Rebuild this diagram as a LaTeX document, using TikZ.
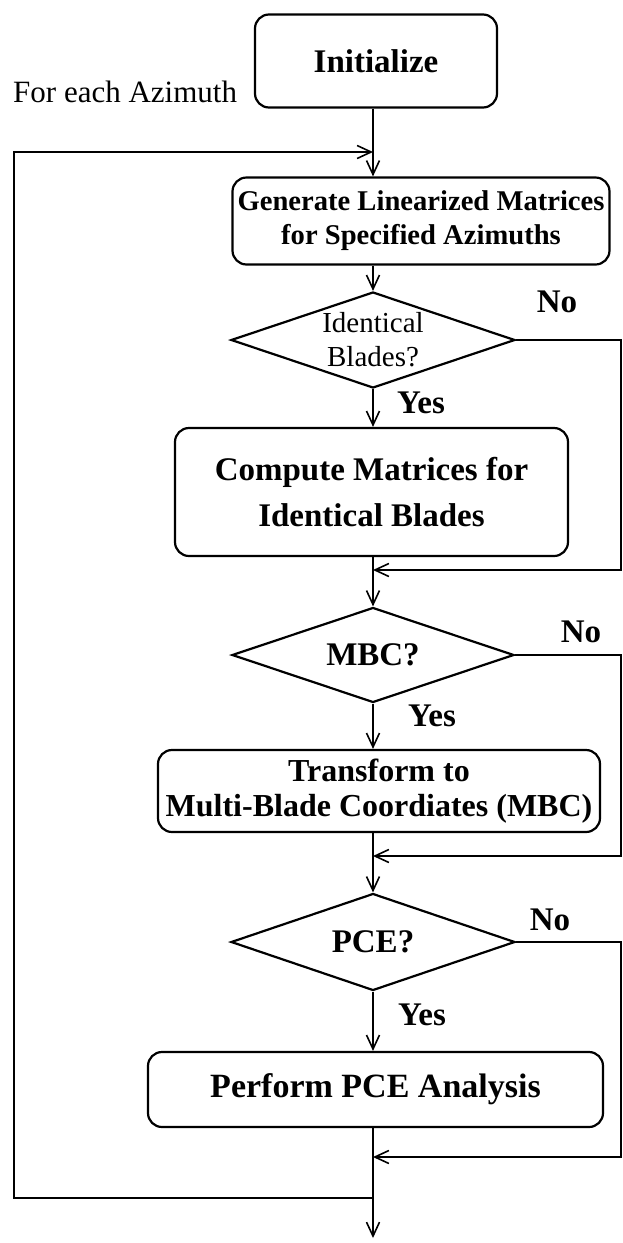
\documentclass[tikz,border=0pt]{standalone}
\usepackage{fontspec}
\setmainfont{Liberation Serif}
\usetikzlibrary{shapes.geometric,arrows.meta}
\begin{document}
\begin{tikzpicture}[x=1pt,y=-1pt,
  box/.style={draw,line width=2.2pt,rounded corners=14pt,align=center,inner sep=0pt},
  dec/.style={draw,line width=2.2pt,diamond,inner sep=0pt},
  dtext/.style={align=center,inner sep=0pt},
  lab/.style={font=\fontsize{33}{36}\selectfont\bfseries,inner sep=0pt},
  con/.style={line width=1.6pt},
  arr/.style={con,-{Straight Barb[length=14pt,width=13pt,line width=1.6pt]}}]
\useasboundingbox (0,0) rectangle (623,1243);
\coordinate (mx) at (373,0);
\coordinate (rx) at (621,0);
\coordinate (lx) at (14,0);
\node[box,minimum width=242pt,minimum height=93pt,font=\fontsize{33}{36}\selectfont\bfseries] (init) at (376,61) {Initialize};
\node[box,minimum width=377pt,minimum height=87pt,font=\fontsize{28.6}{34}\selectfont\bfseries] (gen) at (421,221) {Generate Linearized Matrices\\for Specified Azimuths};
\node[dec,minimum width=284pt,minimum height=96pt] (d1) at (373,340) {};
\node[dtext,font=\fontsize{29}{34}\selectfont] (t1) at (d1.center) {Identical\\Blades?};
\node[box,minimum width=393pt,minimum height=128pt,font=\fontsize{33}{46}\selectfont\bfseries] (comp) at (371.5,492) {Compute Matrices for\\Identical Blades};
\node[dec,minimum width=282pt,minimum height=95pt] (d2) at (373,655) {};
\node[dtext,font=\fontsize{33}{36}\selectfont\bfseries] (t2) at (d2.center) {MBC?};
\node[box,minimum width=442pt,minimum height=82pt,font=\fontsize{32}{35}\selectfont\bfseries] (trans) at (379,791) {Transform to\\Multi-Blade Coordiates (MBC)};
\node[dec,minimum width=284pt,minimum height=97pt] (d3) at (373,942) {};
\node[dtext,font=\fontsize{33}{36}\selectfont\bfseries] (t3) at (d3.center) {PCE?};
\node[box,minimum width=455pt,minimum height=75pt,font=\fontsize{34}{37}\selectfont\bfseries] (perf) at (375.5,1089.5) {Perform PCE Analysis};
\node[anchor=west,inner sep=0pt,font=\fontsize{31}{34}\selectfont] (fea) at (13,92) {For each Azimuth};
\coordinate (j0) at (373,152);
\coordinate (j1) at (373,570);
\coordinate (j2) at (373,856);
\coordinate (j3) at (373,1157);
\coordinate (j4) at (373,1198);
\coordinate (end) at (373,1238);
% main line
\draw[con] (init.south -| mx) -- (j0);
\draw[arr] (j0) -- (gen.north -| mx);
\draw[arr] (gen.south -| mx) -- (d1.north);
\draw[arr] (d1.south) -- (comp.north -| mx);
\draw[con] (comp.south -| mx) -- (j1);
\draw[arr] (j1) -- (d2.north);
\draw[arr] (d2.south) -- (trans.north -| mx);
\draw[con] (trans.south -| mx) -- (j2);
\draw[arr] (j2) -- (d3.north);
\draw[arr] (d3.south) -- (perf.north -| mx);
\draw[con] (perf.south -| mx) -- (j4);
\draw[arr] (j4) -- (end);
% No branches
\draw[arr] (d1.east) -- (d1.east -| rx) -- (j1 -| rx) -- (j1);
\draw[arr] (d2.east) -- (d2.east -| rx) -- (j2 -| rx) -- (j2);
\draw[arr] (d3.east) -- (d3.east -| rx) -- (j3 -| rx) -- (j3);
% loop
\draw[arr] (j4) -- (j4 -| lx) -- (j0 -| lx) -- (j0);
% labels
\node[lab] (no1) at (557,302) {No};
\node[lab] (no2) at (581,632) {No};
\node[lab] (no3) at (550,920) {No};
\node[lab] (y1) at (421,403) {Yes};
\node[lab] (y2) at (432,716) {Yes};
\node[lab] (y3) at (422,1015) {Yes};
\end{tikzpicture}
\end{document}
